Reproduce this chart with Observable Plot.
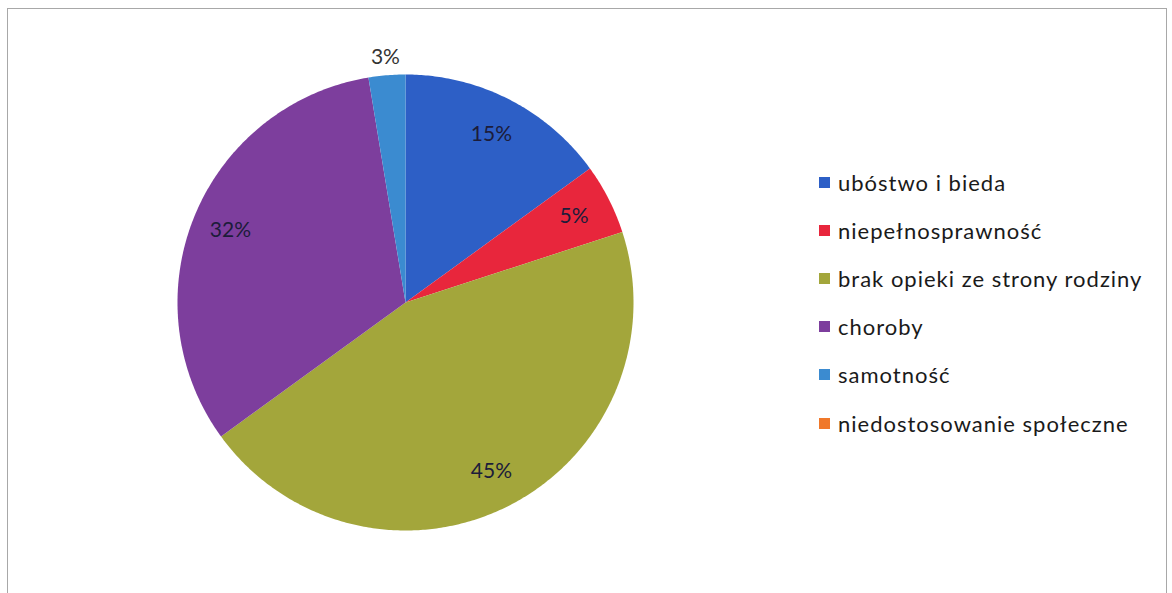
<!DOCTYPE html>
<html><head><meta charset="utf-8">
<script src="https://cdn.jsdelivr.net/npm/d3@7"></script>
<script src="https://cdn.jsdelivr.net/npm/@observablehq/plot@0.6"></script>
<style>
body{margin:0;background:#fff;font-family:Lato,"Open Sans",sans-serif}
#wrap{position:relative;width:1172px;height:593px;overflow:hidden}
#wrap svg{overflow:hidden}
#legend{position:absolute;left:819px;top:158px}
.item{display:flex;align-items:center;height:48.2px;font-size:22px;letter-spacing:1px;color:#1a1a1a;white-space:nowrap}
.sw{width:11px;height:11px;margin-right:8px;flex:none}
</style></head><body><div id="wrap"><div id="legend"></div></div>
<script>
const categories = ["ubóstwo i bieda","niepełnosprawność","brak opieki ze strony rodziny","choroby","samotność","niedostosowanie społeczne"];
const values = [15, 5, 45, 32.4, 2.6, 0];
const colors = ["#2d5fc6","#e8263c","#a3a63b","#7d3e9d","#3b8bd0","#f0782a"];

const arcs = d3.pie().sort(null).value(d => d)(values);
const pts = [];
const labels = [];
arcs.forEach((a, i) => {
  const span = a.endAngle - a.startAngle;
  if (span <= 0) return;
  const cat = categories[i];
  pts.push({x: 0, y: 0, cat});
  const n = Math.max(2, Math.ceil(span / 0.01));
  for (let k = 0; k <= n; k++) {
    const t = a.startAngle + span * k / n;
    pts.push({x: Math.sin(t), y: Math.cos(t), cat});
  }
  pts.push({x: 0, y: 0, cat});
  const mid = (a.startAngle + a.endAngle) / 2;
  const outside = values[i] < 4;
  const r = outside ? 1.08 : 0.83;
  labels.push({x: r * Math.sin(mid), y: r * Math.cos(mid), text: Math.round(values[i]) + "%", outside});
});

const chart = Plot.plot({
  width: 1172, height: 593,
  marginLeft: 7, marginTop: 8, marginRight: 6, marginBottom: 0,
  style: {fontFamily: "Lato, 'Open Sans', sans-serif", background: "transparent"},
  x: {domain: [-1, 1], range: [177, 633], axis: null},
  y: {domain: [-1, 1], range: [530, 74], axis: null},
  color: {domain: categories, range: colors},
  marks: [
    Plot.frame({stroke: "#a8a8a8", insetBottom: -10}),
    Plot.line(pts, {x: "x", y: "y", z: "cat", fill: "cat", stroke: null, curve: "linear"}),
    Plot.text(labels, {x: "x", y: "y", text: "text", fontSize: 21, letterSpacing: 0.6, fill: d => d.outside ? "#333" : "#1c1c3a"})
  ]
});
document.getElementById("wrap").prepend(chart);

const legend = document.getElementById("legend");
categories.forEach((c, i) => {
  const it = document.createElement("div");
  it.className = "item";
  const sw = document.createElement("span");
  sw.className = "sw"; sw.style.background = colors[i];
  const tx = document.createElement("span");
  tx.textContent = c;
  it.append(sw, tx);
  legend.append(it);
});
</script></body></html>
